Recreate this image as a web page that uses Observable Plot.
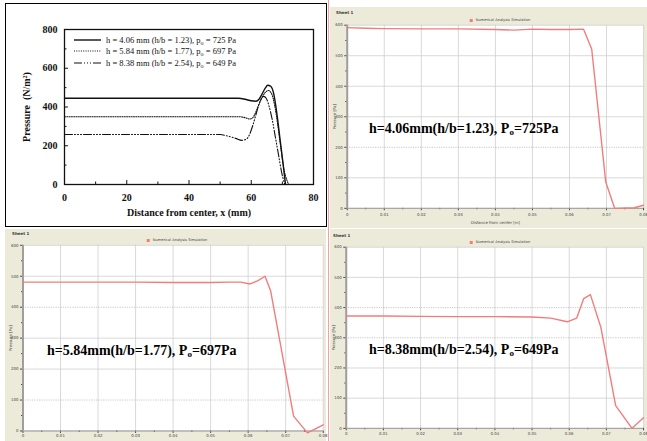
<!DOCTYPE html>
<html>
<head>
<meta charset="utf-8">
<script src="https://cdn.jsdelivr.net/npm/d3@7"></script>
<script src="https://cdn.jsdelivr.net/npm/@observablehq/plot@0.6"></script>
<style>
  html, body { margin: 0; padding: 0; }
  body { width: 647px; height: 441px; overflow: hidden; background: #fff; position: relative; }
  .abs { position: absolute; }
  .panel { position: absolute; background: #ECEBDA; overflow: hidden; }
  .sheet { position: absolute; font: bold 4px "DejaVu Sans"; color: #333; white-space: nowrap; }
  .simleg { position: absolute; font: 3.6px "DejaVu Sans"; color: #444; white-space: nowrap; transform: translateX(-50%); }
  .simleg i { display: inline-block; width: 3px; height: 3px; background: #F27C7C; margin-right: 3px; vertical-align: middle; }
  .note { position: absolute; font: bold 14px "Liberation Serif"; color: #000; white-space: nowrap; line-height: 14px; }
  .note sub { font-size: 9px; vertical-align: -2px; line-height: 0; }
  .expleg { position: absolute; font: 8.5px "Liberation Serif"; color: #111; white-space: nowrap; }
  .expleg div { height: 11.5px; display: flex; align-items: center; }
  .expleg sub { font-size: 6px; vertical-align: -2px; line-height: 0; }
  svg { overflow: visible; }
</style>
</head>
<body>
<script>
// ---------- Experimental data (top-left): distance x (mm) vs pressure (N/m²) ----------
const expX_406 = [0, 10, 20, 30, 40, 50, 56, 58, 60, 61.5, 62.5, 63.5, 64.5, 65.3, 66.2, 67.2, 68.2, 69.2, 70.2, 71];
const expP_406 = [445, 445, 445, 445, 445, 445, 445, 440, 432, 430, 440, 468, 497, 512, 508, 470, 370, 240, 110, 0];
const expX_584 = [0, 10, 20, 30, 40, 50, 56, 58, 59.5, 60.5, 61.5, 62.5, 63.5, 64.5, 65.5, 66.5, 67.5, 68.5, 69.5, 70.5, 71.5, 72];
const expP_584 = [350, 350, 350, 350, 350, 350, 350, 345, 338, 345, 375, 415, 450, 475, 485, 470, 410, 310, 190, 80, 20, 0];
const expX_838 = [0, 10, 20, 30, 40, 50, 52, 55, 57, 58.5, 59.5, 60.5, 61.5, 62.5, 63.3, 64, 64.8, 65.8, 66.8, 67.8, 68.8, 69.8, 70.8];
const expP_838 = [258, 258, 258, 258, 258, 258, 252, 238, 228, 235, 260, 305, 360, 415, 445, 455, 445, 400, 330, 240, 150, 60, 0];

const expH = ["4.06", "5.84", "8.38"];
const expHB = ["1.23", "1.77", "2.54"];
const expPo = ["725", "697", "649"];
const expDash = [null, "1,1.3", "8,2,1,2,1,2,1,2"];

const expXTicks = [0, 20, 40, 60, 80];
const expXMinor = [10, 30, 50, 70];
const expYTicks = [0, 200, 400, 600, 800];
const expYMinor = [100, 300, 500, 700];

// ---------- Simulation data: distance (m) vs pressure (Pa) ----------
const simX_406 = [0, 0.005, 0.01, 0.02, 0.03, 0.04, 0.045, 0.05, 0.055, 0.06, 0.0638, 0.066, 0.0698, 0.0722, 0.0775, 0.08];
const simP_406 = [592, 590, 589, 588, 588, 586, 584, 587, 586, 586, 587, 522, 86, 0, 2, 10];
const simX_584 = [0, 0.01, 0.02, 0.03, 0.04, 0.05, 0.055, 0.058, 0.0605, 0.0625, 0.0645, 0.066, 0.0721, 0.0758, 0.08];
const simP_584 = [481, 481, 481, 481, 480, 480, 481, 481, 475, 485, 500, 452, 48, -6, 20];
const simX_838 = [0, 0.01, 0.02, 0.03, 0.04, 0.05, 0.055, 0.0595, 0.062, 0.0639, 0.0657, 0.0685, 0.0725, 0.0769, 0.08];
const simP_838 = [372, 372, 371, 370, 370, 369, 365, 353, 365, 430, 443, 335, 75, 0, 35];

const simXTicks = [0, 0.01, 0.02, 0.03, 0.04, 0.05, 0.06, 0.07, 0.08];
const simXMinor = [0.005, 0.015, 0.025, 0.035, 0.045, 0.055, 0.065, 0.075];
const simYTicks = [0, 100, 200, 300, 400, 500, 600];
const simYMinor = [50, 150, 250, 350, 450, 550];
const simDashed_406 = [200];
const simDashed_584 = [100, 400];
const simDashed_838 = [300, 400];

const simSheet = "Sheet 1";
const simLegend = "Numerical Analysis Simulation";
const simXTitle = "Distance from center [m]";
const simYTitle = "Pressure [Pa]";
</script>

<script>
const body = document.body;
const px = v => v + "px";
function place(el, l, t) { el.style.position = "absolute"; el.style.left = px(l); el.style.top = px(t); return el; }

// ---------------- Top-left experimental chart ----------------
const expFrame = document.createElement("div");
Object.assign(expFrame.style, {position: "absolute", left: "5px", top: "3px", width: "320px", height: "222px", border: "1.5px solid #000", background: "#fff"});
body.appendChild(expFrame);

const expSeries = [
  {xs: expX_406, ps: expP_406, dash: expDash[0]},
  {xs: expX_584, ps: expP_584, dash: expDash[1]},
  {xs: expX_838, ps: expP_838, dash: expDash[2]}
];

const expPlot = Plot.plot({
  width: 330, height: 228,
  marginLeft: 64, marginRight: 17, marginTop: 29, marginBottom: 44,
  style: {fontFamily: "Liberation Serif", fontSize: "10px", color: "#111", background: "transparent", overflow: "visible"},
  x: {domain: [0, 80]},
  y: {domain: [0, 800]},
  marks: [
    Plot.frame({stroke: "#111", strokeWidth: 1.3}),
    Plot.axisX({ticks: expXTicks, tickSize: 0, tickPadding: 9, fontWeight: "bold",
      label: "Distance from center, x (mm)", labelAnchor: "center", labelOffset: 31, labelArrow: "none"}),
    Plot.axisX({ticks: expXTicks, tickSize: -4, tickFormat: () => "", label: null}),
    Plot.axisX({ticks: expXMinor, tickSize: -2.5, tickFormat: () => "", label: null}),
    Plot.axisY({ticks: expYTicks, tickSize: 0, tickPadding: 7, fontWeight: "bold",
      label: "Pressure  (N/m²)", labelAnchor: "center", labelOffset: 42, labelArrow: "none"}),
    Plot.axisY({ticks: expYTicks, tickSize: -4, tickFormat: () => "", label: null}),
    Plot.axisY({ticks: expYMinor, tickSize: -2.5, tickFormat: () => "", label: null}),
    ...expSeries.map(s => Plot.line(s.xs.map((x, i) => ({x, p: s.ps[i]})),
      {x: "x", y: "p", stroke: "#111", strokeWidth: s.dash ? 1.1 : 1.4, strokeDasharray: s.dash, curve: "monotone-x"}))
  ]
});
place(expPlot, 0, 0);
body.appendChild(expPlot);
expPlot.querySelectorAll("g[aria-label$='label'] text").forEach(t => t.setAttribute("font-weight", "bold"));

// legend
const leg = document.createElement("div");
leg.className = "expleg";
place(leg, 74, 34);
expH.forEach((h, i) => {
  const row = document.createElement("div");
  const dash = expDash[i] ? `stroke-dasharray="${expDash[i]}"` : "";
  row.innerHTML = `<svg width="28" height="6" style="margin-right:4px"><line x1="0" x2="27" y1="3" y2="3" stroke="#111" stroke-width="${expDash[i] ? 1.1 : 1.4}" ${dash}/></svg>` +
    `<span>h = ${h} mm (h/b = ${expHB[i]}), p<sub>o</sub> = ${expPo[i]} Pa</span>`;
  leg.appendChild(row);
});
body.appendChild(leg);

// ---------------- Simulation panels ----------------
const fmtX = d => d === 0 ? "0" : d.toFixed(2);

function simPlot({xs, ps, width, height, ml, mr, mt, mb, dashed, xTitle, xPad}) {
  const rows = xs.map((x, i) => ({x, p: ps[i]}));
  return Plot.plot({
    width, height, marginLeft: ml, marginRight: mr, marginTop: mt, marginBottom: mb,
    style: {fontFamily: "DejaVu Sans", fontSize: "4px", color: "#444", background: "transparent", overflow: "visible"},
    x: {domain: [0, 0.08]},
    y: {domain: [0, 600]},
    marks: [
      Plot.frame({fill: "#fff"}),
      Plot.gridX({ticks: simXTicks, stroke: "#cfcfcf", strokeOpacity: 1, strokeWidth: 0.8}),
      Plot.gridY({ticks: simYTicks.filter(t => !dashed.includes(t)), stroke: "#cfcfcf", strokeOpacity: 1, strokeWidth: 0.8}),
      Plot.gridY({ticks: dashed, stroke: "#b8b8b8", strokeOpacity: 1, strokeWidth: 0.8, strokeDasharray: "1.2,1.2"}),
      Plot.axisX({ticks: simXTicks, tickSize: 2.5, tickPadding: xPad, tickFormat: fmtX,
        label: xTitle, labelAnchor: "center", labelOffset: 16, labelArrow: "none"}),
      Plot.axisX({ticks: simXMinor, tickSize: 1.5, tickFormat: () => "", label: null}),
      Plot.axisY({ticks: simYTicks, tickSize: 2.5, tickPadding: 2,
        label: simYTitle, labelAnchor: "center", labelOffset: 14, labelArrow: "none"}),
      Plot.axisY({ticks: simYMinor, tickSize: 1.5, tickFormat: () => "", label: null}),
      Plot.ruleY([0], {stroke: "#9a9a9a", strokeWidth: 1}),
      Plot.ruleX([0], {stroke: "#a39a9a", strokeWidth: 2}),
      Plot.line(rows, {x: "x", y: "p", stroke: "#F27C7C", strokeWidth: 1.4})
    ]
  });
}

function makePanel({left, top, w, h, plotOpts, sheetPos, legPos, note, notePos, visible}) {
  const div = document.createElement("div");
  div.className = "panel";
  Object.assign(div.style, {left: px(left), top: px(top), width: px(w), height: px(h)});
  if (visible) div.style.overflow = "visible";
  const svg = simPlot(plotOpts);
  place(svg, 0, 0);
  div.appendChild(svg);
  const sh = document.createElement("div");
  sh.className = "sheet"; sh.textContent = simSheet;
  place(sh, sheetPos[0], sheetPos[1]);
  div.appendChild(sh);
  const lg = document.createElement("div");
  lg.className = "simleg"; lg.innerHTML = `<i></i>${simLegend}`;
  place(lg, legPos[0], legPos[1]);
  div.appendChild(lg);
  body.appendChild(div);
  const n = document.createElement("div");
  n.className = "note";
  n.innerHTML = `h=${note[0]}mm(h/b=${note[1]}), P<sub>o</sub>=${note[2]}Pa`;
  place(n, notePos[0], notePos[1]);
  body.appendChild(n);
}

makePanel({
  left: 330, top: 7, w: 317, h: 221,
  plotOpts: {xs: simX_406, ps: simP_406, width: 322, height: 221, ml: 17, mr: 4, mt: 18, mb: 17, dashed: simDashed_406, xTitle: simXTitle, xPad: 2},
  sheetPos: [6, 3], legPos: [170, 11],
  note: [expH[0], expHB[0], expPo[0]], notePos: [369, 122]
});
makePanel({
  left: 5, top: 229, w: 321, h: 212,
  plotOpts: {xs: simX_584, ps: simP_584, width: 325, height: 212, ml: 17.7, mr: 3.3, mt: 16, mb: 8, dashed: simDashed_584, xTitle: null, xPad: 1},
  sheetPos: [7, 2], legPos: [172, 9],
  note: [expH[1], expHB[1], expPo[1]], notePos: [47, 344], visible: true
});
makePanel({
  left: 330, top: 229, w: 317, h: 212,
  plotOpts: {xs: simX_838, ps: simP_838, width: 322, height: 212, ml: 16, mr: 4, mt: 18, mb: 10, dashed: simDashed_838, xTitle: null, xPad: 1.5},
  sheetPos: [3, 4], legPos: [170, 11],
  note: [expH[2], expHB[2], expPo[2]], notePos: [369, 343]
});

// thin pink separator seen between the left and right columns
const sep = document.createElement("div");
Object.assign(sep.style, {position: "absolute", left: "328px", top: "0px", width: "1px", height: "441px", background: "#F4A0A0"});
body.appendChild(sep);
</script>
</body>
</html>
